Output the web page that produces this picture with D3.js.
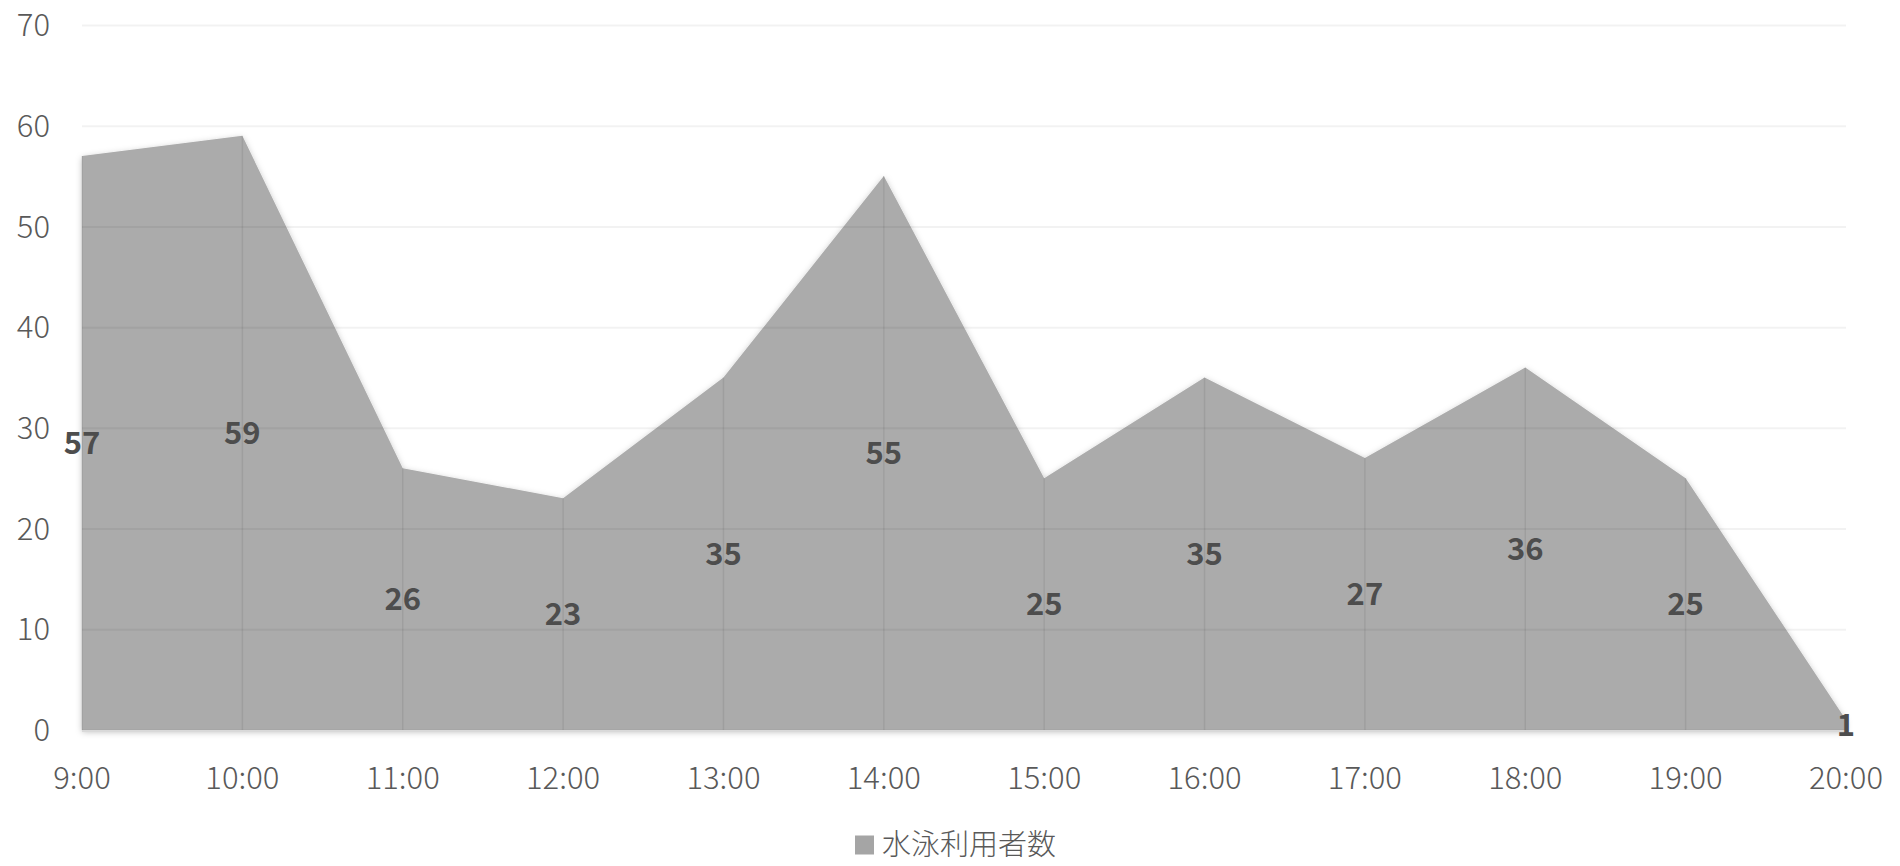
<!DOCTYPE html>
<html>
<head>
<meta charset="utf-8">
<script src="https://cdn.jsdelivr.net/npm/d3@7"></script>
<style>
  body { margin: 0; background: #fff; }
  text { font-family: "Noto Sans CJK JP", "Noto Sans", sans-serif; }
</style>
</head>
<body>
<div id="chart"></div>
<script>
let hours = ["9:00", "10:00", "11:00", "12:00", "13:00", "14:00", "15:00", "16:00", "17:00", "18:00", "19:00", "20:00"];
let users = [57, 59, 26, 23, 35, 55, 25, 35, 27, 36, 25, 1];
let yTicks = [0, 10, 20, 30, 40, 50, 60, 70];
let seriesName = "水泳利用者数";

{
  let sizex = 1900,
      sizey = 866;

  var margin = {top: 25, right: 54, bottom: 136, left: 82},
      width = sizex - margin.left - margin.right,
      height = sizey - margin.top - margin.bottom;

  var svg = d3.select("#chart")
    .append("svg")
      .attr("width", sizex)
      .attr("height", sizey);

  var defs = svg.append("defs");
  var f = defs.append("filter").attr("id", "shadow")
    .attr("x", "-5%").attr("y", "-5%").attr("width", "110%").attr("height", "110%");
  f.append("feDropShadow")
    .attr("dx", 0).attr("dy", 2).attr("stdDeviation", 3)
    .attr("flood-color", "#000").attr("flood-opacity", 0.25);

  var g = svg.append("g")
      .attr("transform", "translate(" + margin.left + "," + margin.top + ")");

  // x
  var scalex = d3.scalePoint()
    .domain(hours)
    .range([0, width]);

  // y
  var scaley = d3.scaleLinear()
    .domain([0, 70])
    .range([height, 0]);

  // area
  var area = d3.area()
    .x((d, i) => scalex(hours[i]))
    .y0(scaley(0))
    .y1(d => scaley(d));

  g.append("path")
    .datum(users)
    .attr("d", area)
    .attr("fill", "#ababab")
    .attr("filter", "url(#shadow)");

  // gridlines
  g.append("g")
    .call(d3.axisLeft(scaley).tickValues(yTicks).tickSize(-width).tickFormat(""))
    .call(s => s.select(".domain").remove())
    .selectAll("line")
      .attr("stroke", "#000")
      .attr("stroke-opacity", 0.05)
      .attr("stroke-width", 2);

  // drop lines
  users.forEach(function(d, i) {
    g.append("line")
      .attr("x1", scalex(hours[i]))
      .attr("x2", scalex(hours[i]))
      .attr("y1", scaley(0))
      .attr("y2", scaley(d))
      .attr("stroke", "#000")
      .attr("stroke-opacity", 0.07)
      .attr("stroke-width", 1.5);
  });

  // baseline
  g.append("line")
    .attr("x1", 0).attr("x2", width)
    .attr("y1", scaley(0) + 1).attr("y2", scaley(0) + 1)
    .attr("stroke", "#d9d9d9")
    .attr("stroke-width", 2);

  // y labels
  g.append("g")
    .style("font-size", "31px")
    .selectAll("text")
    .data(yTicks)
    .join("text")
      .attr("x", -32)
      .attr("y", d => scaley(d))
      .attr("dy", "0.36em")
      .attr("text-anchor", "end")
      .attr("fill", "#595959")
      .attr("font-weight", 300)
      .text(d => d);

  // x labels
  g.append("g")
    .style("font-size", "31px")
    .selectAll("text")
    .data(hours)
    .join("text")
      .attr("x", d => scalex(d))
      .attr("y", height + 48)
      .attr("dy", "0.36em")
      .attr("text-anchor", "middle")
      .attr("fill", "#595959")
      .attr("font-weight", 300)
      .text(d => d);

  // data labels
  g.append("g")
    .style("font-size", "31px")
    .selectAll("text")
    .data(users)
    .join("text")
      .attr("x", (d, i) => scalex(hours[i]))
      .attr("y", d => scaley(d / 2))
      .attr("dy", "0.36em")
      .attr("text-anchor", "middle")
      .attr("fill", "#4d4d4d")
      .attr("font-weight", 700)
      .text(d => d);

  // legend
  var lg = svg.append("g").attr("transform", "translate(855," + 845 + ")");
  lg.append("rect")
    .attr("x", 0).attr("y", -9.5)
    .attr("width", 19).attr("height", 19)
    .attr("fill", "#a5a5a5");
  lg.append("text")
    .attr("x", 27)
    .attr("y", 0)
    .attr("dy", "0.36em")
    .style("font-size", "29px")
    .attr("fill", "#595959")
    .attr("font-weight", 300)
    .text(seriesName);
}
</script>
</body>
</html>
